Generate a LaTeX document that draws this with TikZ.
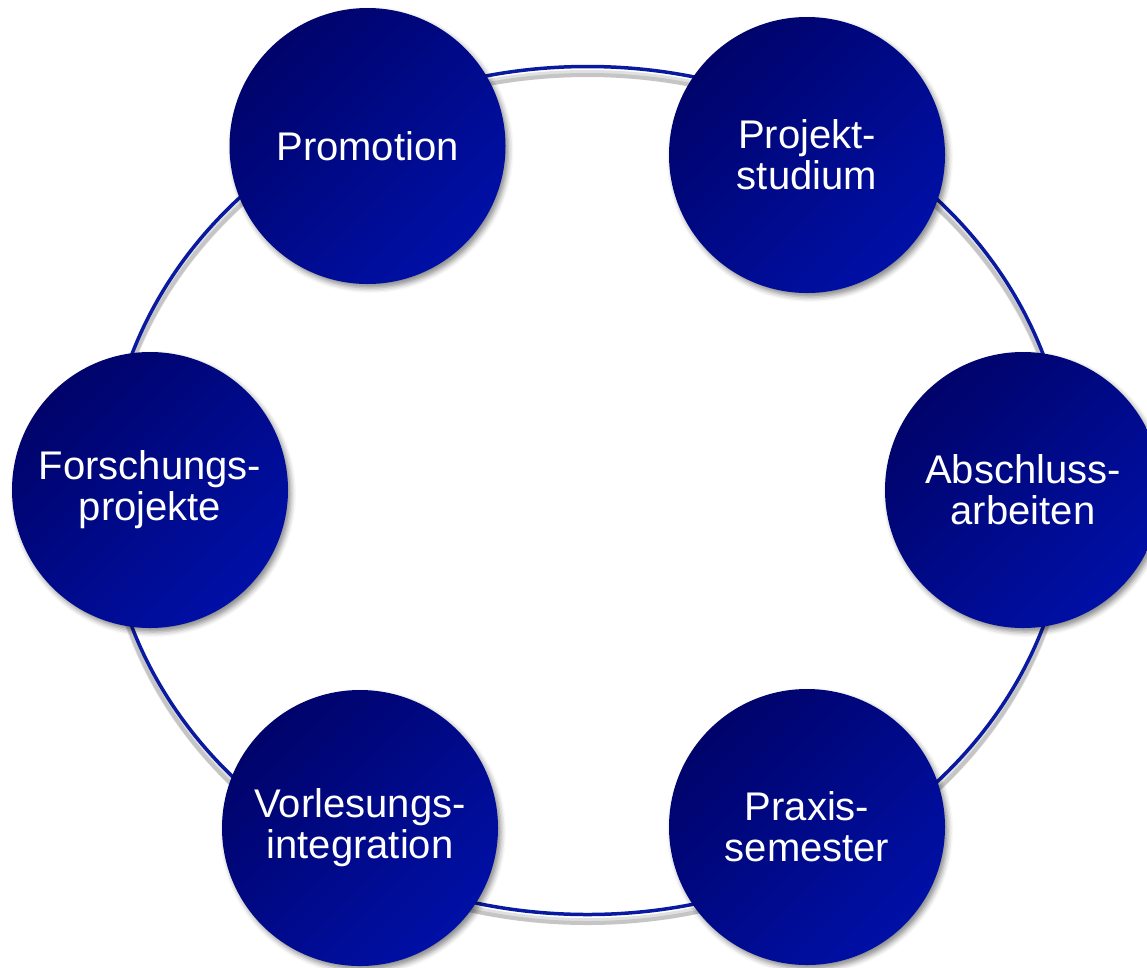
\documentclass[tikz,border=0pt]{standalone}
\usepackage{fontspec}
\setmainfont{Liberation Sans}
\usetikzlibrary{shadows.blur}
\definecolor{ringblue}{HTML}{0A1AA0}
\definecolor{balldark}{HTML}{00036A}
\definecolor{balllight}{HTML}{0010A6}
\begin{document}
\begin{tikzpicture}[x=1pt,y=-1pt,
  ball/.style={circle, minimum size=276pt, inner sep=0pt,
    top color=balldark, bottom color=balllight, shading angle=45,
    text=white, align=center, font=\fontsize{40}{41}\selectfont,
    blur shadow={shadow xshift=3pt, shadow yshift=-4pt, shadow blur radius=5pt, shadow opacity=45}},
  ringline/.style={draw=ringblue, line width=3.5pt},
  ringshade/.style={draw=black, line width=7pt, opacity=0.12}]
\useasboundingbox (0,0) rectangle (1147,967);
\clip (0,0) rectangle (1147,967);
\coordinate (c) at (587.5,490.5);
\coordinate (cs1) at (587.5,497.5);
\coordinate (cs2) at (587.5,499);
\draw[ringshade] (cs1) ellipse [x radius=481pt, y radius=424pt];
\draw[ringshade, line width=4pt] (cs2) ellipse [x radius=481pt, y radius=424pt];
\draw[ringline] (c) ellipse [x radius=481pt, y radius=424pt];
\node[ball] (promo) at (367.5,146) {Promotion};
\node[ball] (proj) at (807,155) {Projekt-\\studium};
\node[ball] (absch) at (1023,490) {Abschluss-\\arbeiten};
\node[ball] (prax) at (807,827) {Praxis-\\semester};
\node[ball] (vorl) at (360,828) {Vorlesungs-\\integration};
\node[ball] (forsch) at (150,490) {Forschungs-\\projekte};
\end{tikzpicture}
\end{document}
